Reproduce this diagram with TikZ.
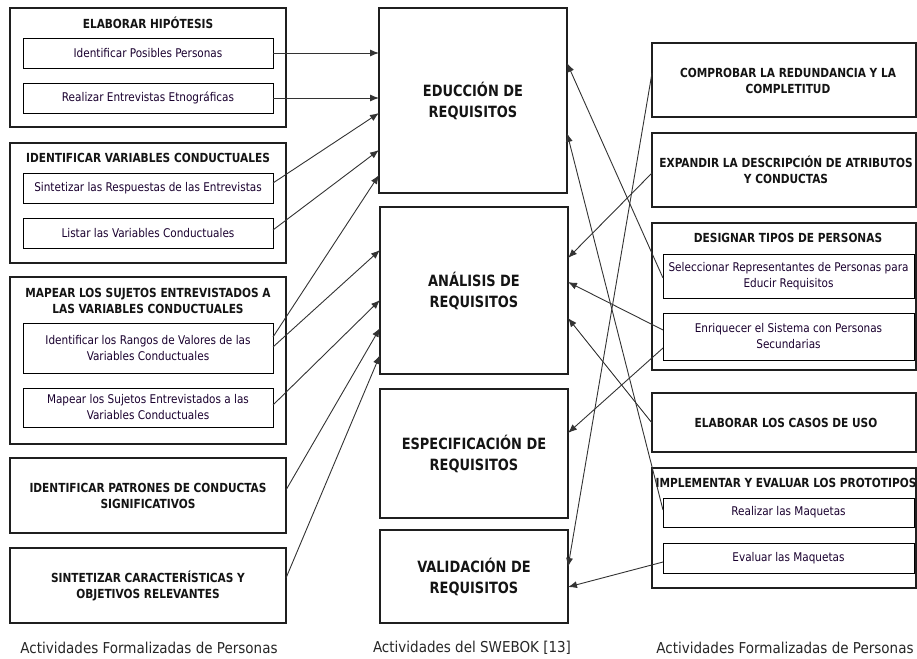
\documentclass[tikz,border=0pt]{standalone}
\usepackage{fontspec}
\setmainfont{DejaVuSansCondensed}[Extension=.ttf, BoldFont=DejaVuSansCondensed-Bold]
\newfontfamily\ttlfont{DejaVuSansCondensed-Bold}[Extension=.ttf, FakeStretch=0.94]
\newfontfamily\bigfont{DejaVuSansCondensed-Bold}[Extension=.ttf, FakeStretch=0.93]
\newfontfamily\subfont{DejaVuSansCondensed}[Extension=.ttf, FakeStretch=0.97]
\usetikzlibrary{arrows.meta,calc}
\begin{document}
\begin{tikzpicture}[x=1pt,y=-1pt,
  grp/.style={draw=black!88, line width=2pt, inner sep=0pt, outer sep=0pt, anchor=north west},
  sub/.style={draw=black, line width=0.9pt, inner sep=0pt, outer sep=0pt, anchor=north west},
  ttl/.style={font=\ttlfont\fontsize{12.5}{16}\selectfont, align=center, inner sep=0pt, text=black!92},
  txt/.style={font=\subfont\fontsize{12}{16}\selectfont, align=center, text=black!80!blue!90!red},
  big/.style={font=\bigfont\fontsize{15.5}{21}\selectfont, align=center, text=black!92},
  captxt/.style={font=\fontsize{15}{18}\selectfont, inner sep=0pt, text=black!85},
  conn/.style={draw=black!80, line width=0.9pt, -{Latex[length=9pt,width=7pt]}}]
\useasboundingbox (0,0) rectangle (917,658);

% ---------- left column ----------
\node[grp, minimum width=276pt, minimum height=119pt] (g1) at (10,8) {};
\node[ttl] (g1t) at (148,23) {ELABORAR HIPÓTESIS};
\node[sub, txt, minimum width=250pt, minimum height=30pt] (i11) at (23,38) {Identificar Posibles Personas};
\node[sub, txt, minimum width=250pt, minimum height=30pt] (i12) at (23,83) {Realizar Entrevistas Etnográficas};

\node[grp, minimum width=276pt, minimum height=120pt] (g2) at (10,143) {};
\node[ttl] (g2t) at (148,158) {IDENTIFICAR VARIABLES CONDUCTUALES};
\node[sub, txt, minimum width=250pt, minimum height=30pt] (i21) at (23,173) {Sintetizar las Respuestas de las Entrevistas};
\node[sub, txt, minimum width=250pt, minimum height=30pt] (i22) at (23,218) {Listar las Variables Conductuales};

\node[grp, minimum width=276pt, minimum height=167pt] (g3) at (10,277) {};
\node[ttl] (g3t) at (148,301) {MAPEAR LOS SUJETOS ENTREVISTADOS A\\LAS VARIABLES CONDUCTUALES};
\node[sub, txt, minimum width=250pt, minimum height=50pt] (i31) at (23,323) {Identificar los Rangos de Valores de las\\Variables Conductuales};
\node[sub, txt, minimum width=250pt, minimum height=39pt] (i32) at (23,388) {Mapear los Sujetos Entrevistados a las\\Variables Conductuales};

\node[grp, ttl, minimum width=276pt, minimum height=75pt] (b4) at (10,458) {IDENTIFICAR PATRONES DE CONDUCTAS\\SIGNIFICATIVOS};
\node[grp, ttl, minimum width=276pt, minimum height=75pt] (b5) at (10,548) {SINTETIZAR CARACTERÍSTICAS Y\\OBJETIVOS RELEVANTES};

% ---------- centre column ----------
\node[grp, big, minimum width=188pt, minimum height=185pt] (educ) at (379,8) {EDUCCIÓN DE\\REQUISITOS};
\node[grp, big, minimum width=188pt, minimum height=167pt] (anal) at (380,207) {ANÁLISIS DE\\REQUISITOS};
\node[grp, big, minimum width=188pt, minimum height=129pt] (espec) at (380,389) {ESPECIFICACIÓN DE\\REQUISITOS};
\node[grp, big, minimum width=188pt, minimum height=93pt] (valid) at (380,530) {VALIDACIÓN DE\\REQUISITOS};

% ---------- right column ----------
\node[grp, minimum width=264pt, minimum height=74pt] (comp) at (652,43) {};
\node[ttl] (compt) at (788,81) {COMPROBAR LA REDUNDANCIA Y LA\\COMPLETITUD};
\node[grp, minimum width=264pt, minimum height=74pt] (exp) at (652,133) {};
\node[ttl] (expt) at (786,170) {EXPANDIR LA DESCRIPCIÓN DE ATRIBUTOS\\Y CONDUCTAS};
\node[grp, minimum width=264pt, minimum height=147pt] (des) at (652,223) {};
\node[ttl] (dest) at (788,238) {DESIGNAR TIPOS DE PERSONAS};
\node[sub, txt, minimum width=251pt, minimum height=44pt] (sel) at (663,254) {Seleccionar Representantes de Personas para\\Educir Requisitos};
\node[sub, txt, minimum width=251pt, minimum height=47pt] (enr) at (663,313) {Enriquecer el Sistema con Personas\\Secundarias};
\node[grp, minimum width=264pt, minimum height=59pt] (elab) at (652,393) {};
\node[ttl] (elabt) at (786,423) {ELABORAR LOS CASOS DE USO};
\node[grp, minimum width=264pt, minimum height=120pt] (imp) at (652,468) {};
\node[ttl] (impt) at (786,483) {IMPLEMENTAR Y EVALUAR LOS PROTOTIPOS};
\node[sub, txt, minimum width=251pt, minimum height=29pt] (rea) at (663,498) {Realizar las Maquetas};
\node[sub, txt, minimum width=251pt, minimum height=30pt] (eva) at (663,543) {Evaluar las Maquetas};

% ---------- captions ----------
\node[captxt] (c1) at (149,648) {Actividades Formalizadas de Personas};
\node[captxt] (c2) at (472,648) {Actividades del SWEBOK [13]};
\node[captxt] (c3) at (785,648) {Actividades Formalizadas de Personas};

% ---------- connectors left -> centre ----------
\draw[conn] (i11.east) -- (educ.west |- i11.east);
\draw[conn] (i12.east) -- (educ.west |- i12.east);
\draw[conn] ($(i21.north east)+(0,10)$) -- ($(educ.north west)+(0,105)$);
\draw[conn] ($(i22.north east)+(0,12)$) -- ($(educ.north west)+(0,142)$);
\draw[conn] ($(i31.north east)+(0,14)$) -- ($(educ.north west)+(0,167)$);
\draw[conn] ($(i31.north east)+(0,24)$) -- ($(anal.north west)+(0,43)$);
\draw[conn] ($(i32.north east)+(0,17)$) -- ($(anal.north west)+(0,93)$);
\draw[conn] ($(b4.north east)+(0,32)$) -- ($(anal.north west)+(0,121)$);
\draw[conn] ($(b5.north east)+(0,30)$) -- ($(anal.north west)+(0,148)$);

% ---------- connectors right -> centre ----------
\draw[conn] ($(sel.north west)+(0,24)$) -- ($(educ.north east)+(0,55)$);
\draw[conn] ($(rea.north west)+(0,12)$) -- ($(educ.north east)+(0,125)$);
\draw[conn] ($(exp.north west)+(0,40)$) -- ($(anal.north east)+(0,51)$);
\draw[conn] ($(enr.north west)+(0,17)$) -- ($(anal.north east)+(0,75)$);
\draw[conn] ($(elab.north west)+(0,30)$) -- ($(anal.north east)+(0,111)$);
\draw[conn] ($(enr.north west)+(0,35)$) -- ($(espec.north east)+(0,44)$);
\draw[conn] ($(comp.north west)+(0,30)$) -- ($(valid.north east)+(0,37)$);
\draw[conn] ($(eva.north west)+(0,19)$) -- ($(valid.north east)+(0,57)$);
\end{tikzpicture}
\end{document}
